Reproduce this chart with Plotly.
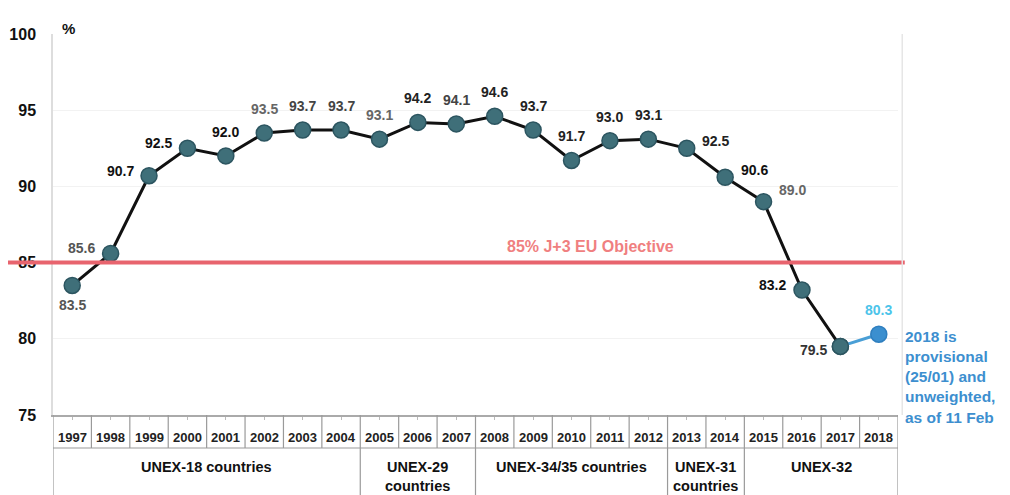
import plotly.graph_objects as go

years = ["1997","1998","1999","2000","2001","2002","2003","2004","2005","2006","2007",
         "2008","2009","2010","2011","2012","2013","2014","2015","2016","2017","2018"]
values = [83.5, 85.6, 90.7, 92.5, 92.0, 93.5, 93.7, 93.7, 93.1, 94.2, 94.1,
          94.6, 93.7, 91.7, 93.0, 93.1, 92.5, 90.6, 89.0, 83.2, 79.5, 80.3]
label_texts = ["83.5","85.6","90.7","92.5","92.0","93.5","93.7","93.7","93.1","94.2","94.1",
               "94.6","93.7","91.7","93.0","93.1","92.5","90.6","89.0","83.2","79.5","80.3"]
label_pos = ["b","l","l","l","t","t","t","t","t","t","t",
             "t","t","t","t","t","r","r","tr","l","bl","t"]
label_colors = ["#555","#555","#111","#111","#111","#666","#444","#444","#666","#222","#444",
                "#222","#222","#222","#222","#222","#222","#111","#666","#111","#333","#4cc4ea"]
groups = ["UNEX-18 countries", "UNEX-29<br>countries", "UNEX-34/35 countries",
          "UNEX-31<br>countries", "UNEX-32"]
group_start = [0, 8, 11, 16, 18]
group_end = [7, 10, 15, 17, 21]
objective = 85
objective_label = "85% J+3 EU Objective"
note = "2018 is<br>provisional<br>(25/01) and<br>unweighted,<br>as of 11 Feb"

FONT = "Liberation Sans, Arial, sans-serif"
idx = list(range(len(years)))
MK = dict(size=16, color="#3f6f79", line=dict(color="#2c5560", width=1.5))

fig = go.Figure()
fig.add_trace(go.Scatter(
    x=idx[:-1], y=values[:-1], mode="lines+markers",
    line=dict(color="#111", width=3), marker=MK,
    hoverinfo="skip", showlegend=False))
fig.add_trace(go.Scatter(
    x=idx[-2:], y=values[-2:], mode="lines",
    line=dict(color="#4a9fd6", width=3), hoverinfo="skip", showlegend=False))
fig.add_trace(go.Scatter(
    x=idx[-2:-1], y=values[-2:-1], mode="markers", marker=MK,
    hoverinfo="skip", showlegend=False))
fig.add_trace(go.Scatter(
    x=idx[-1:], y=values[-1:], mode="markers",
    marker=dict(size=16, color="#3b8fcf", line=dict(color="#2f7fbf", width=1.5)),
    hoverinfo="skip", showlegend=False))

shift = {"t": (0, 24), "b": (0, -20), "l": (-29, 5), "r": (29, 7),
         "tr": (29, 12), "bl": (-27, -4)}
for i, (v, t, p, c) in enumerate(zip(values, label_texts, label_pos, label_colors)):
    dx, dy = shift[p]
    fig.add_annotation(x=i, y=v, text=t, showarrow=False, xshift=dx, yshift=dy,
                       font=dict(family=FONT, size=14, color=c, weight="bold"))

# objective line
fig.add_shape(type="line", xref="paper", yref="y", x0=-0.06, x1=1.008,
              y0=objective, y1=objective, line=dict(color="#e8646e", width=4))
fig.add_annotation(x=13.5, y=objective, yshift=16, text=objective_label, showarrow=False,
                   font=dict(family=FONT, size=16, color="#f07f80", weight="bold"))

# note
fig.add_annotation(xref="paper", x=1.006, y=77.5, xanchor="left", yanchor="middle",
                   text=note, showarrow=False, align="left",
                   font=dict(family=FONT, size=15.5, color="#3d8fcf", weight="bold"))

# % sign
fig.add_annotation(xref="paper", yref="paper", x=0.008, y=1.0, yshift=16, text="%",
                   showarrow=False, font=dict(family=FONT, size=15, color="#111", weight="bold"))

# table under axis
H = 381.0
yr_top = 0
yr_bot = -33 / H
grp_bot = -90 / H
line_c = "#9a9a9a"
for i in range(len(years) + 1):
    xb = i - 0.5
    is_group = (i == 0 or i == len(years) or i in group_start)
    fig.add_shape(type="line", xref="x", yref="paper", x0=xb, x1=xb,
                  y0=yr_top, y1=grp_bot if is_group else yr_bot,
                  line=dict(color=line_c, width=1.2))
fig.add_shape(type="line", xref="paper", yref="paper", x0=0, x1=1,
              y0=yr_bot, y1=yr_bot, line=dict(color=line_c, width=1.2))
for i, yv in enumerate(years):
    fig.add_annotation(x=i, yref="paper", y=-22 / H, text=yv, yanchor="middle",
                       showarrow=False,
                       font=dict(family=FONT, size=13, color="#222", weight="bold"))
for g, s, e in zip(groups, group_start, group_end):
    fig.add_annotation(x=(s + e) / 2, yref="paper", y=yr_bot - 9 / H, yanchor="top",
                       text=g, showarrow=False,
                       font=dict(family=FONT, size=14.5, color="#111", weight="bold"))

fig.update_layout(
    width=1002, height=487,
    margin=dict(l=45, r=112, t=26, b=80, autoexpand=False),
    paper_bgcolor="white", plot_bgcolor="white",
    xaxis=dict(range=[-0.5, len(years) - 0.5], showticklabels=False, showgrid=False,
               zeroline=False, showline=True, linecolor="#aaaaaa", linewidth=1.5,
               ticks="outside", tickcolor="#bbb", ticklen=3, dtick=1, tick0=0,
               automargin=False, fixedrange=True),
    yaxis=dict(range=[75, 100], dtick=5, tick0=75, showgrid=True, gridcolor="#f2f2f2",
               zeroline=False, showline=True, linecolor="#dddddd", linewidth=1.5,
               ticklabelstandoff=12, automargin=False,
               tickfont=dict(family=FONT, size=16, color="#111", weight="bold"),
               fixedrange=True),
    showlegend=False,
)
fig.add_shape(type="line", xref="paper", yref="paper", x0=1.005, x1=1.005, y0=0, y1=1,
              line=dict(color="#e6e6e6", width=1.5))

fig.write_html("out.html")
